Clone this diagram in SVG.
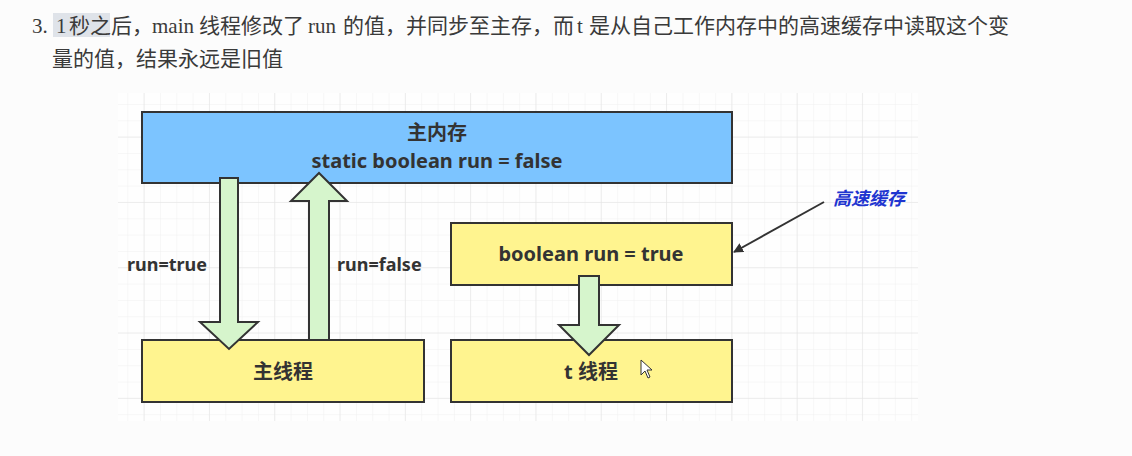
<svg xmlns="http://www.w3.org/2000/svg" width="1132" height="456" viewBox="0 0 1132 456">
<defs>
<style>
.hdr{font-family:"Liberation Serif","Noto Sans CJK SC",serif;font-size:21px;fill:#3a3a3a}
.cjk{font-family:"Noto Sans CJK SC",sans-serif}
.box{stroke:#333;stroke-width:2}
.blue{fill:#7cc4ff}
.yel{fill:#fff48f}
.lbl{font-family:"Noto Sans","Noto Sans CJK SC",sans-serif;font-weight:bold;font-size:20px;fill:#333;text-anchor:middle}
.side{font-family:"Noto Sans","Noto Sans CJK SC",sans-serif;font-weight:bold;font-size:18px;fill:#333}
.arr{fill:#d6f5cc;stroke:#333;stroke-width:2;stroke-linejoin:miter}
.note{font-family:"Noto Sans CJK SC",sans-serif;font-style:italic;font-weight:bold;font-size:18px;fill:#1f35d0}
</style>
<pattern id="gmin" x="13" y="6" width="16.33" height="16.33" patternUnits="userSpaceOnUse">
<path d="M0 0H16.33M0 0V16.33" fill="none" stroke="#efefef" stroke-width="1"/>
</pattern>
<pattern id="gmaj" x="13" y="6" width="65.3" height="65.3" patternUnits="userSpaceOnUse">
<path d="M0 0H65.3M0 0V65.3" fill="none" stroke="#e2e2e2" stroke-width="1"/>
</pattern>
<marker id="ah" markerWidth="10" markerHeight="10" refX="9" refY="5" orient="auto" markerUnits="userSpaceOnUse" viewBox="0 0 10 10">
<path d="M0 0L10 5L0 10Z" fill="#333"/>
</marker>
</defs>
<rect width="1132" height="456" fill="#fcfcfc"/>
<g id="header">
<rect x="53" y="13" width="57" height="24" fill="#dfe3e9"/>
<text class="hdr" y="33"><tspan x="32">3.</tspan><tspan x="56">1</tspan><tspan x="69" class="cjk">秒之后，</tspan><tspan x="152">main</tspan><tspan x="199" class="cjk">线程修改了</tspan><tspan x="308">run</tspan><tspan x="343" class="cjk">的值，并同步至主存，而</tspan><tspan x="577">t</tspan><tspan x="589" class="cjk">是从自己工作内存中的高速缓存中读取这个变</tspan></text>
<text class="hdr" y="66"><tspan x="52" class="cjk">量的值，结果永远是旧值</tspan></text>
</g>
<g id="grid">
<rect x="118" y="93" width="800" height="328" fill="#fefefe"/>
<rect x="118" y="93" width="800" height="328" fill="url(#gmin)"/>
<rect x="118" y="93" width="800" height="328" fill="url(#gmaj)"/>
</g>
<g id="main-memory">
<rect class="box blue" x="142" y="112" width="590" height="71"/>
<text class="lbl" x="437" y="140">主内存</text>
<text class="lbl" x="437" y="168">static boolean run = false</text>
</g>
<g id="cache">
<rect class="box yel" x="451" y="223" width="281" height="62"/>
<text class="lbl" x="591" y="261">boolean run = true</text>
</g>
<g id="main-thread">
<rect class="box yel" x="142" y="340" width="282" height="62"/>
<text class="lbl" x="283" y="379">主线程</text>
</g>
<g id="t-thread">
<rect class="box yel" x="451" y="340" width="281" height="62"/>
<text class="lbl" x="591" y="379">t 线程</text>
</g>
<g id="connectors">
<polygon class="arr" points="220,178 238,178 238,322 258,322 229,349 200,322 220,322"/>
<polygon class="arr" points="309,340 309,201 291,201 319,173 347,201 329,201 329,340"/>
<polygon class="arr" points="579,276 599,276 599,325 619,325 589,355 559,325 579,325"/>
<line x1="824" y1="202" x2="734" y2="252" stroke="#333" stroke-width="2" marker-end="url(#ah)"/>
<text class="side" x="127" y="271">run=true</text>
<text class="side" x="337" y="271">run=false</text>
<text class="note" x="833" y="205">高速缓存</text>
</g>
<g id="cursor">
<path d="M641 360L641 375L645 371L648 378L650 377L647 370L652 370Z" fill="#fff" stroke="#333" stroke-width="1"/>
</g>
</svg>
